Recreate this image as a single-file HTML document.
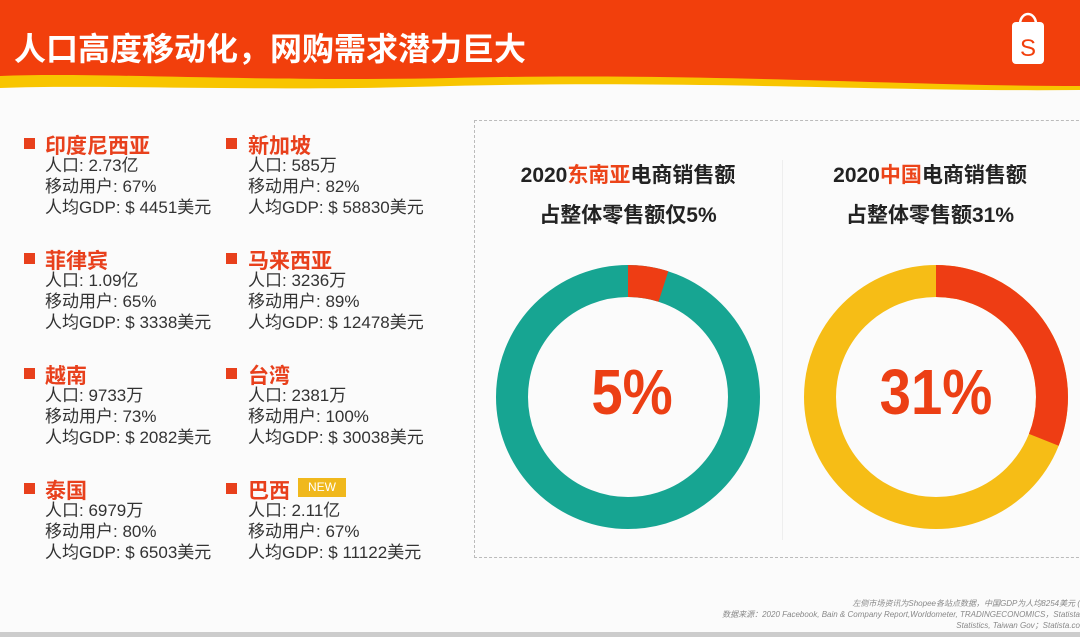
<!DOCTYPE html>
<html><head><meta charset="utf-8">
<style>
*{margin:0;padding:0;box-sizing:border-box}
body{width:1080px;height:637px;background:#fbfbfb;position:relative;overflow:hidden;font-family:"Liberation Sans","Noto Sans CJK SC",sans-serif;color:#2a2a2a}
.t{position:absolute;white-space:nowrap}
.lab{font-size:21px;font-weight:bold;color:#e8401c}
.sq{position:absolute;width:11px;height:11px;background:#e8401c}
.sub{font-size:17px;line-height:21px;color:#333}
.h{font-size:21px;font-weight:bold;color:#222;text-align:center;width:300px}
.h span{color:#ec4419}
</style></head><body>
<svg class="t" style="left:0;top:0" width="1080" height="100">
<path d="M0 0H1080V90C900 92 700 80 450 86C250 92 100 84 0 88Z" fill="#f8c500"/>
<path d="M0 0H1080V86C900 86 700 72 450 78C250 82 100 72 0 76Z" fill="#f23f0c"/>
<rect x="1012" y="22" width="32" height="42" rx="4" fill="#fff"/>
<path d="M1020 24a8 10 0 0 1 16 0" stroke="#fff" stroke-width="2.5" fill="none"/>
<text x="1028" y="56" font-size="24" fill="#f23f0c" text-anchor="middle" font-family="Liberation Sans">S</text>
</svg>
<div class="t" style="left:14px;top:24px;font-size:32px;font-weight:bold;color:#fff">人口高度移动化，网购需求潜力巨大</div>

<div class="sq" style="left:24px;top:138px"></div><div class="t lab" style="left:45px;top:130px">印度尼西亚</div>
<div class="t sub" style="left:45px;top:155px">人口: 2.73亿<br>移动用户: 67%<br>人均GDP: $ 4451美元</div>
<div class="sq" style="left:226px;top:138px"></div><div class="t lab" style="left:248px;top:130px">新加坡</div>
<div class="t sub" style="left:248px;top:155px">人口: 585万<br>移动用户: 82%<br>人均GDP: $ 58830美元</div>

<div class="sq" style="left:24px;top:253px"></div><div class="t lab" style="left:45px;top:245px">菲律宾</div>
<div class="t sub" style="left:45px;top:270px">人口: 1.09亿<br>移动用户: 65%<br>人均GDP: $ 3338美元</div>
<div class="sq" style="left:226px;top:253px"></div><div class="t lab" style="left:248px;top:245px">马来西亚</div>
<div class="t sub" style="left:248px;top:270px">人口: 3236万<br>移动用户: 89%<br>人均GDP: $ 12478美元</div>

<div class="sq" style="left:24px;top:368px"></div><div class="t lab" style="left:45px;top:360px">越南</div>
<div class="t sub" style="left:45px;top:385px">人口: 9733万<br>移动用户: 73%<br>人均GDP: $ 2082美元</div>
<div class="sq" style="left:226px;top:368px"></div><div class="t lab" style="left:248px;top:360px">台湾</div>
<div class="t sub" style="left:248px;top:385px">人口: 2381万<br>移动用户: 100%<br>人均GDP: $ 30038美元</div>

<div class="sq" style="left:24px;top:483px"></div><div class="t lab" style="left:45px;top:475px">泰国</div>
<div class="t sub" style="left:45px;top:500px">人口: 6979万<br>移动用户: 80%<br>人均GDP: $ 6503美元</div>
<div class="sq" style="left:226px;top:483px"></div><div class="t lab" style="left:248px;top:475px">巴西</div>
<div class="t" style="left:298px;top:478px;width:48px;height:19px;background:#f0b81c;color:#fff;font-size:12px;text-align:center;line-height:19px">NEW</div>
<div class="t sub" style="left:248px;top:500px">人口: 2.11亿<br>移动用户: 67%<br>人均GDP: $ 11122美元</div>

<div class="t" style="left:474px;top:120px;width:620px;height:438px;border:1px dashed #bbb"></div>
<div class="t" style="left:782px;top:160px;width:1px;height:380px;background:#eee"></div>

<div class="t h" style="left:478px;top:159px">2020<span>东南亚</span>电商销售额</div>
<div class="t h" style="left:478px;top:199px">占整体零售额仅5%</div>
<div class="t h" style="left:780px;top:159px">2020<span>中国</span>电商销售额</div>
<div class="t h" style="left:780px;top:199px">占整体零售额31%</div>

<svg class="t" style="left:0;top:0" width="1080" height="637">
<g transform="translate(628 397)">
<circle r="116" fill="none" stroke="#17a592" stroke-width="32"/>
<circle r="116" fill="none" stroke="#ee3d14" stroke-width="32" stroke-dasharray="36 800" transform="rotate(-90)"/>
</g>
<g transform="translate(936 397)">
<circle r="116" fill="none" stroke="#f6bd16" stroke-width="32"/>
<circle r="116" fill="none" stroke="#ee3d14" stroke-width="32" stroke-dasharray="226 800" transform="rotate(-90)"/>
</g>
<text transform="translate(632 414) scale(0.88 1)" font-size="64" font-weight="bold" fill="#ec3f14" text-anchor="middle" font-family="Liberation Sans">5%</text>
<text transform="translate(936 414) scale(0.88 1)" font-size="64" font-weight="bold" fill="#ec3f14" text-anchor="middle" font-family="Liberation Sans">31%</text>
</svg>

<div class="t" style="right:0;top:598px;font-size:8px;font-style:italic;color:#888;text-align:right;line-height:11px">左侧市场资讯为Shopee各站点数据，中国GDP为人均8254美元 (<br>数据来源：2020 Facebook, Bain &amp; Company Report,Worldometer, TRADINGECONOMICS，Statista<br>Statistics, Taiwan Gov；Statista.co</div>
<div class="t" style="left:0;top:632px;width:1080px;height:5px;background:#ccc"></div>
</body></html>
